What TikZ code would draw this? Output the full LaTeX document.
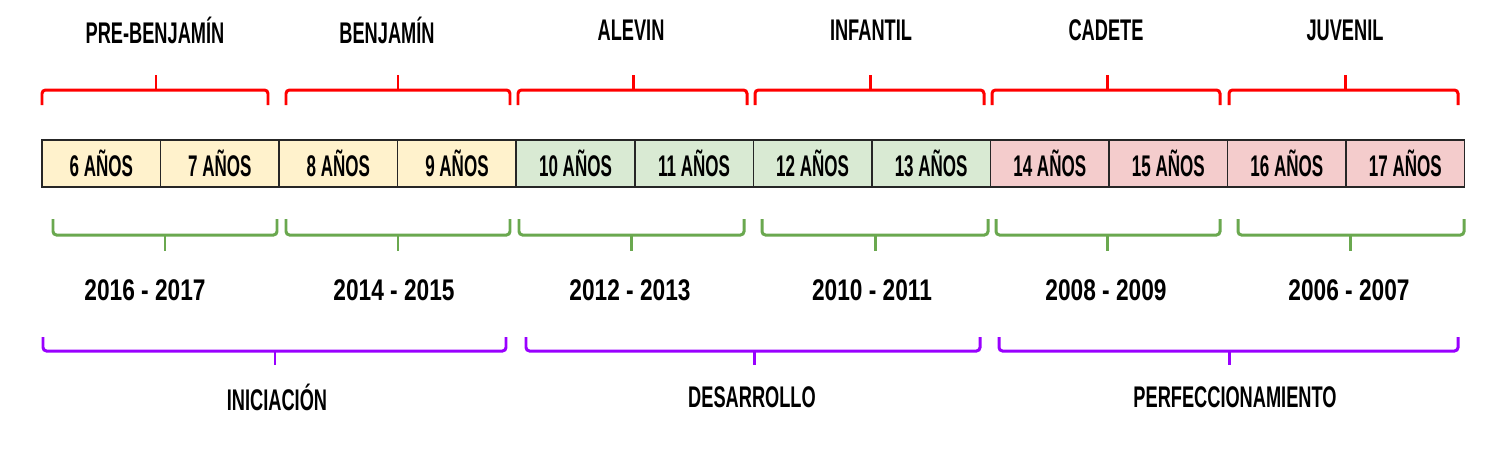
\documentclass[tikz,border=0pt]{standalone}
\usepackage{fontspec}
\setmainfont{Liberation Sans}[FakeStretch=0.61]
\newfontfamily\cellfont{Liberation Sans}[FakeStretch=0.57]
\newfontfamily\yearfont{Liberation Sans}[FakeStretch=0.76]
\usetikzlibrary{positioning}

\definecolor{cellyellow}{HTML}{FFF2CC}
\definecolor{cellgreen}{HTML}{D9EAD3}
\definecolor{cellred}{HTML}{F4CCCC}
\definecolor{bracered}{HTML}{FF0000}
\definecolor{bracegreen}{HTML}{6AA84F}
\definecolor{bracepurple}{HTML}{9900FF}

\begin{document}
\begin{tikzpicture}[x=0.02cm,y=-0.02cm,
    cell/.style={draw=black!85, line width=0.9pt, outer sep=0pt, inner sep=0pt,
      minimum width=2.3716cm, minimum height=0.94cm,
      font=\cellfont\bfseries\fontsize{17}{19}\selectfont},
    lbl/.style={font=\bfseries\fontsize{17}{19}\selectfont},
    yearlbl/.style={font=\yearfont\bfseries\fontsize{17}{19}\selectfont},
    brc/.style={line width=1.7pt, rounded corners=2pt}]
    \useasboundingbox (0,0) rectangle (1498,451);

    % age cells
    \node[cell, fill=cellyellow, anchor=west] (a6) at (42,163.5) {6 AÑOS};
    \foreach \n/\p/\c in {7/6/cellyellow,8/7/cellyellow,9/8/cellyellow,
        10/9/cellgreen,11/10/cellgreen,12/11/cellgreen,13/12/cellgreen,
        14/13/cellred,15/14/cellred,16/15/cellred,17/16/cellred}
      \node[cell, fill=\c, right=0pt of a\p] (a\n) {\n\ AÑOS};

    % categories
    \foreach \xa/\xb/\xm/\xt/\name/\txt in {42/268/156/155/pre/PRE-BENJAMÍN,
        286/510/398/387/ben/BENJAMÍN, 518/747/633/631/ale/ALEVIN,
        755/984/870/871/inf/INFANTIL, 992/1220/1107/1106/cad/CADETE,
        1229/1458/1345/1345/juv/JUVENIL} {
      \draw[brc, bracered] (\xa,105) |- (\xb,90) -- (\xb,105);
      \draw[brc, bracered] (\xm,90) -- (\xm,75);
      \node[lbl] (\name) at (\xt,30) {\txt};
    }

    % birth years
    \foreach \xa/\xb/\xm/\xt/\name/\txt in {53/277/165/145/y1/2016 - 2017,
        286/510/398/394/y2/2014 - 2015, 519/744/631/630/y3/2012 - 2013,
        762/988/875/872/y4/2010 - 2011, 996/1220/1107/1106/y5/2008 - 2009,
        1238/1464/1350/1349/y6/2006 - 2007} {
      \draw[brc, bracegreen] (\xa,219) |- (\xb,235) -- (\xb,219);
      \draw[brc, bracegreen] (\xm,235) -- (\xm,251);
      \node[yearlbl] (\name) at (\xt,290) {\txt};
    }

    % stages
    \foreach \xa/\xb/\xm/\xt/\name/\txt in {43/506/275/277/ini/INICIACIÓN,
        526/980/754/752/des/DESARROLLO, 999/1458/1229/1235/per/PERFECCIONAMIENTO} {
      \draw[brc, bracepurple] (\xa,337) |- (\xb,351) -- (\xb,337);
      \draw[brc, bracepurple] (\xm,351) -- (\xm,365);
      \node[lbl] (\name) at (\xt,397) {\txt};
    }
\end{tikzpicture}
\end{document}
